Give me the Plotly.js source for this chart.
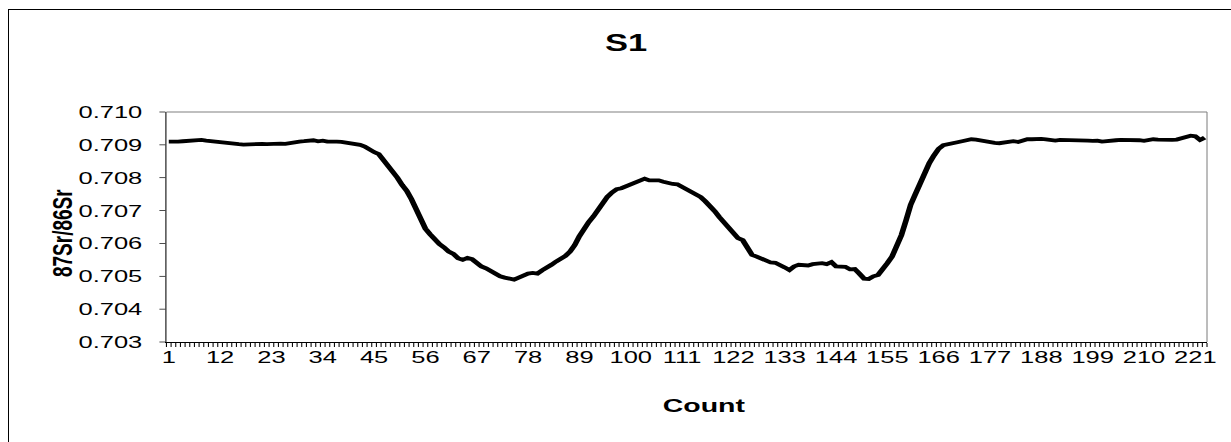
<!DOCTYPE html>
<html>
<head>
<meta charset="utf-8">
<script src="https://cdn.plot.ly/plotly-3.0.1.min.js"></script>
<style>
  html, body { margin: 0; padding: 0; background: #fff; overflow: hidden; }
  #frame { position: absolute; left: 8px; top: 9px; width: 1400px; height: 600px;
           border-left: 1px solid #000; border-top: 1px solid #000; pointer-events: none; z-index: 5; }
  #wrap { position: absolute; left: 0; top: 0; width: 821px; height: 442px;
          transform: scaleX(1.49939); transform-origin: 0 0; }
  #plot { width: 821px; height: 442px; }
</style>
</head>
<body>
<div id="wrap"><div id="plot"></div></div>
<div id="frame"></div>
<script>
// ---- data ----
const chartTitle = "S1";
const xTitle = "Count";
const yTitle = "87Sr/86Sr";
const ratio = [
  0.70910, 0.70909, 0.70910, 0.70911, 0.70912, 0.70913, 0.70914, 0.70915, 0.70913, 0.70911,
  0.70910, 0.70908, 0.70907, 0.70905, 0.70903, 0.70902, 0.70901, 0.70902, 0.70901, 0.70902,
  0.70903, 0.70902, 0.70903, 0.70902, 0.70904, 0.70903, 0.70906, 0.70908, 0.70910, 0.70911,
  0.70913, 0.70914, 0.70911, 0.70913, 0.70910, 0.70911, 0.70910, 0.70909, 0.70907, 0.70905,
  0.70903, 0.70900, 0.70895, 0.70885, 0.70878, 0.70872, 0.70855, 0.70838, 0.70818, 0.70800,
  0.70778, 0.70760, 0.70735, 0.70705, 0.70670, 0.70645, 0.70628, 0.70612, 0.70598, 0.70588,
  0.70575, 0.70568, 0.70555, 0.70550, 0.70556, 0.70552, 0.70540, 0.70530, 0.70524, 0.70515,
  0.70506, 0.70500, 0.70496, 0.70492, 0.70490, 0.70496, 0.70503, 0.70508, 0.70510, 0.70508,
  0.70518, 0.70525, 0.70535, 0.70545, 0.70552, 0.70562, 0.70575, 0.70595, 0.70622, 0.70645,
  0.70665, 0.70682, 0.70702, 0.70722, 0.70742, 0.70755, 0.70765, 0.70768, 0.70774, 0.70780,
  0.70788, 0.70794, 0.70797, 0.70792, 0.70791, 0.70792, 0.70788, 0.70783, 0.70781, 0.70780,
  0.70772, 0.70764, 0.70758, 0.70750, 0.70741, 0.70728, 0.70714, 0.70698, 0.70680, 0.70664,
  0.70648, 0.70633, 0.70616, 0.70610, 0.70588, 0.70565, 0.70560, 0.70553, 0.70546, 0.70542,
  0.70541, 0.70535, 0.70527, 0.70519, 0.70530, 0.70535, 0.70534, 0.70533, 0.70537, 0.70539,
  0.70540, 0.70537, 0.70543, 0.70530, 0.70530, 0.70529, 0.70521, 0.70522, 0.70508, 0.70493,
  0.70492, 0.70500, 0.70504, 0.70520, 0.70540, 0.70560, 0.70590, 0.70625, 0.70670, 0.70718,
  0.70750, 0.70783, 0.70815, 0.70845, 0.70868, 0.70888, 0.70899, 0.70903, 0.70906, 0.70908,
  0.70911, 0.70914, 0.70917, 0.70916, 0.70913, 0.70910, 0.70908, 0.70906, 0.70905, 0.70908,
  0.70910, 0.70911, 0.70909, 0.70914, 0.70917, 0.70917, 0.70918, 0.70918, 0.70917, 0.70914,
  0.70913, 0.70915, 0.70915, 0.70914, 0.70915, 0.70913, 0.70914, 0.70913, 0.70912, 0.70913,
  0.70910, 0.70912, 0.70914, 0.70914, 0.70915, 0.70915, 0.70916, 0.70916, 0.70914, 0.70912,
  0.70915, 0.70917, 0.70916, 0.70915, 0.70914, 0.70915, 0.70916, 0.70920, 0.70926, 0.70928,
  0.70926, 0.70915, 0.70922
];
const counts = ratio.map((_, i) => i + 1);
const xTickVals = [1, 12, 23, 34, 45, 56, 67, 78, 89, 100, 111, 122, 133, 144, 155, 166, 177, 188, 199, 210, 221];
const yTickVals = [0.703, 0.704, 0.705, 0.706, 0.707, 0.708, 0.709, 0.710];
const yTickText = ["0.703", "0.704", "0.705", "0.706", "0.707", "0.708", "0.709", "0.710"];

// ---- chart ----
const font = "Arial, 'Liberation Sans', sans-serif";
const trace = {
  x: counts, y: ratio, type: "scatter", mode: "lines",
  line: { color: "#000", width: 3.8, shape: "linear" },
  hoverinfo: "skip"
};
const layout = {
  width: 821, height: 442,
  margin: { l: 110.67, r: 16.33, t: 112, b: 100 },
  paper_bgcolor: "rgba(0,0,0,0)", plot_bgcolor: "#fff",
  showlegend: false,
  font: { family: font, color: "#000" },
  title: {
    text: "<b>" + chartTitle + "</b>",
    font: { family: font, size: 23, color: "#000" },
    x: 626 / 1231, xref: "container", xanchor: "center",
    y: 1 - 43 / 442, yref: "container", yanchor: "middle"
  },
  xaxis: {
    range: [0.5, counts.length + 0.5],
    tickmode: "array", tickvals: xTickVals, ticktext: xTickVals.map(String),
    ticks: "", showgrid: false, zeroline: false,
    showline: true, linecolor: "#000", linewidth: 1,
    tickfont: { family: font, size: 17, color: "#000" },
    minor: { tickmode: "linear", tick0: 0.5, dtick: 1, ticks: "outside", ticklen: 4, tickwidth: 0.7, tickcolor: "#000", showgrid: false }
  },
  yaxis: {
    range: [0.703, 0.710],
    tickmode: "array", tickvals: yTickVals, ticktext: yTickText,
    ticks: "outside", ticklen: 4, tickwidth: 0.7, tickcolor: "#000",
    showgrid: false, zeroline: false,
    showline: true, linecolor: "#000", linewidth: 0.7,
    tickfont: { family: font, size: 17, color: "#000" },
    ticklabelstandoff: 8
  },
  annotations: [
    { text: "<b>" + xTitle + "</b>", xref: "paper", yref: "paper",
      x: 0.518, y: -63 / 230, xanchor: "center", yanchor: "middle", showarrow: false,
      font: { family: font, size: 19, color: "#000" } },
    { text: "<b>" + yTitle + "</b>", xref: "paper", yref: "paper", textangle: -90,
      x: (40.7 - 110.67) / 694, y: (342 - 233) / 230, xanchor: "center", yanchor: "middle", showarrow: false,
      font: { family: font, size: 19, color: "#000" } }
  ],
  shapes: [
    { type: "line", xref: "paper", yref: "paper", x0: 0, x1: 1, y0: 1, y1: 1, line: { color: "#808080", width: 1 }, layer: "below" },
    { type: "line", xref: "paper", yref: "paper", x0: 1, x1: 1, y0: 0, y1: 1, line: { color: "#808080", width: 0.7 }, layer: "below" }
  ]
};
Plotly.newPlot("plot", [trace], layout, { displayModeBar: false, staticPlot: true });
</script>
</body>
</html>
